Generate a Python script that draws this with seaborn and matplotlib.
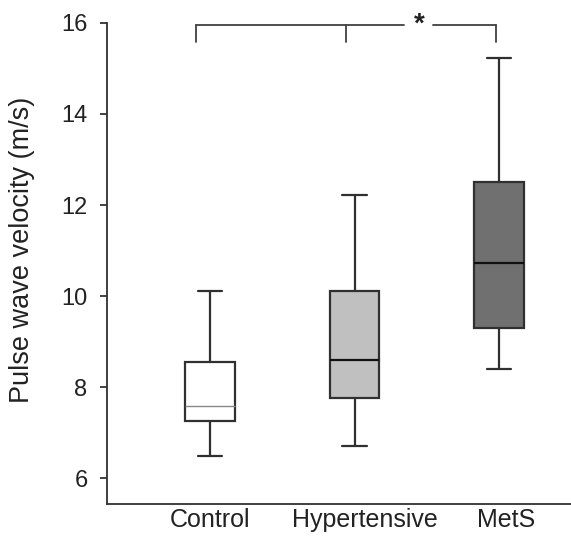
import matplotlib
matplotlib.use("Agg")
import matplotlib.pyplot as plt
import seaborn as sns
import pandas as pd

# Data: five-number summaries (min, Q1, median, Q3, max)
groups = ["Control", "Hypertensive", "MetS"]
control_vals = [6.50, 7.26, 7.60, 8.55, 10.12]
hypertensive_vals = [6.71, 7.76, 8.60, 10.11, 12.22]
mets_vals = [8.40, 9.31, 10.72, 12.51, 15.22]
box_colors = ["#ffffff", "#c0c0c0", "#707070"]
y_ticks = [6, 8, 10, 12, 14, 16]

rows = []
for g, vals in zip(groups, [control_vals, hypertensive_vals, mets_vals]):
    for v in vals:
        rows.append({"group": g, "pwv": v})
df = pd.DataFrame(rows)

sns.set_style("ticks")
plt.rcParams["font.family"] = ["Liberation Sans", "DejaVu Sans"]

fig = plt.figure(figsize=(5.71, 5.36), dpi=100)
ax = fig.add_axes([107 / 571, 1 - 504 / 536, (571 - 107) / 571, (504 - 22.7) / 536])

edge = "#303030"
sns.boxplot(
    data=df, x="group", y="pwv", hue="group", order=groups, hue_order=groups,
    palette=dict(zip(groups, box_colors)), legend=False, dodge=False,
    width=0.34, whis=(0, 100), linewidth=1.6, linecolor=edge,
    showfliers=False, saturation=1, ax=ax,
    medianprops=dict(color="#111111", linewidth=1.6),
)

# Control median: thin grey line as in the reference
try:
    ax.containers[0].medians[0].set_color("#888888")
    ax.containers[0].medians[0].set_linewidth(1.0)
except Exception:
    pass

ax.set_xlim(-0.713, 2.498)
ax.set_ylim(5.44, 16.0)
ax.set_yticks(y_ticks)
ax.set_yticklabels([str(t) for t in y_ticks])
# category labels sit slightly right of the boxes in the reference
ax.set_xticks([0.0, 1.07, 2.05])
ax.set_xticklabels(groups)
ax.tick_params(axis="y", length=5, width=1.2, pad=9, labelsize=17, colors="#222222")
ax.tick_params(axis="x", length=0, pad=3, labelsize=18, colors="#222222")
ax.set_xlabel("")
ax.set_ylabel("Pulse wave velocity (m/s)", fontsize=19.5, color="#222222")
ax.yaxis.set_label_coords(-0.155, 0.529)

for side in ["top", "right"]:
    ax.spines[side].set_visible(False)
for side in ["left", "bottom"]:
    ax.spines[side].set_linewidth(1.3)
    ax.spines[side].set_color("#303030")

# Significance bracket
yb, ydrop = 15.95, 15.58
kw = dict(color="#404040", lw=1.3, clip_on=False)
ax.plot([-0.097, 1.343], [yb, yb], **kw)
ax.plot([1.543, 1.98], [yb, yb], **kw)
ax.plot([-0.097, -0.097], [yb, ydrop], **kw)
ax.plot([0.94, 0.94], [yb, ydrop], **kw)
ax.plot([1.98, 1.98], [yb, ydrop], **kw)
ax.text(1.446, yb, "*", ha="center", va="center", fontsize=20, color="#222222",
        fontweight="bold", clip_on=False)

fig.savefig("out.png", dpi=100)
